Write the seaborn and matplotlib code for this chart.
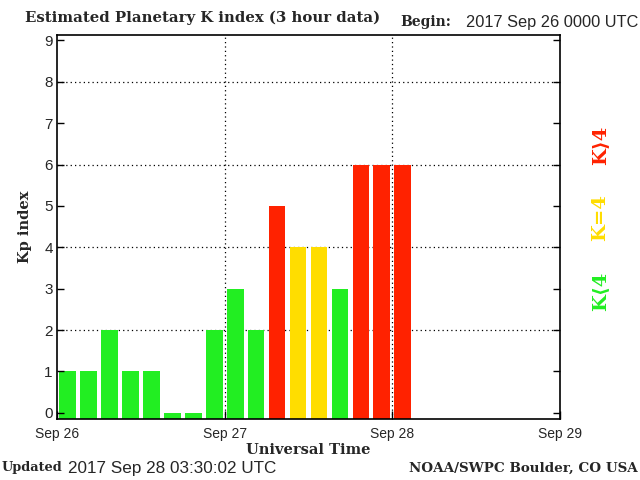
import matplotlib
matplotlib.use("Agg")
import matplotlib.pyplot as plt
import seaborn as sns
import pandas as pd
import numpy as np

# ---- data ----
kp_values = [1, 1, 2, 1, 1, 0, 0, 2, 3, 2, 5, 4, 4, 3, 6, 6, 6]
hours = [3 * i + 1.5 for i in range(len(kp_values))]   # centre of each 3-hour interval (hours since Sep 26 00 UTC)
day_labels = ["Sep 26", "Sep 27", "Sep 28", "Sep 29"]
day_hours = [0, 24, 48, 72]
y_ticks = list(range(10))

GREEN = "#22ee22"
YELLOW = "#ffdd00"
RED = "#ff2200"

def kcolor(v):
    return GREEN if v < 4 else (YELLOW if v == 4 else RED)

YMIN, YMAX = -0.15, 9.13
STUB = 0.07
df = pd.DataFrame({
    "hour": hours,
    "kp": kp_values,
})
df["height"] = [max(v - YMIN, STUB) for v in df["kp"]]
df["color"] = [kcolor(v) for v in df["kp"]]

sns.set_style("white")
plt.rcParams["font.family"] = ["DejaVu Sans"]

fig = plt.figure(figsize=(6.4, 4.8), dpi=100)
ax = fig.add_axes([57 / 640, 1 - 419 / 480, (560 - 57) / 640, (419 - 35) / 480])

sns.barplot(data=df, x="hour", y="height", hue="hour", palette=list(df["color"]),
            native_scale=True, width=0.8, legend=False, ax=ax,
            bottom=YMIN, linewidth=0, edgecolor="none", saturation=1)

ax.set_xlim(0, 72)
ax.set_ylim(YMIN, YMAX)

# grid
for yv in [2, 4, 6, 8]:
    ax.axhline(yv, color="black", lw=0.9, ls=(0, (1, 2.5)), zorder=0.5)
for xv in [24, 48]:
    ax.axvline(xv, color="black", lw=0.9, ls=(0, (1, 2.5)), zorder=3)

ax.set_yticks(y_ticks)
ax.set_yticklabels([str(t) for t in y_ticks], fontsize=11, family="Liberation Sans")
ax.set_xticks(day_hours)
ax.set_xticklabels(day_labels, fontsize=10, family="Liberation Sans")
ax.set_xticks(np.arange(3, 72, 3), minor=True)
ax.tick_params(axis="y", which="major", direction="in", length=5, width=1,
               left=True, right=True, labelleft=True, pad=3, color="black")
ax.tick_params(axis="x", which="major", direction="in", length=6, width=1,
               bottom=True, top=False, pad=6, color="black")
ax.tick_params(axis="x", which="minor", direction="in", length=5, width=1,
               bottom=True, top=False, color="white")
for sp in ax.spines.values():
    sp.set_color("black")
    sp.set_linewidth(1.2)
    sp.set_zorder(4)
ax.set_axisbelow("line")

ax.set_xlabel("Universal Time", fontsize=10.5, fontweight="bold", family="DejaVu Serif", labelpad=1)
ax.set_ylabel("Kp index", fontsize=10.5, fontweight="bold", family="DejaVu Serif", labelpad=9)

# header / footer texts
fig.text(25 / 640, 1 - 18 / 480, "Estimated Planetary K index (3 hour data)", fontsize=10.7,
         fontweight="bold", family="DejaVu Serif", va="center", ha="left")
fig.text(400 / 640, 1 - 22 / 480, "Begin:", fontsize=10, fontweight="bold",
         family="DejaVu Serif", va="center", ha="left")
fig.text(638 / 640, 1 - 22 / 480, "2017 Sep 26 0000 UTC", fontsize=11.8,
         family="Liberation Sans", va="center", ha="right")
fig.text(2 / 640, 1 - 468 / 480, "Updated", fontsize=9.3, fontweight="bold",
         family="DejaVu Serif", va="center", ha="left")
fig.text(68 / 640, 1 - 468 / 480, "2017 Sep 28 03:30:02 UTC", fontsize=12.3,
         family="Liberation Sans", va="center", ha="left")
fig.text(638 / 640, 1 - 468 / 480, "NOAA/SWPC Boulder, CO USA", fontsize=9.7,
         fontweight="bold", family="DejaVu Serif", va="center", ha="right")

# colour key on the right
key_fam = ["DejaVu Serif", "DejaVu Sans"]
fig.text(600 / 640, 1 - 291 / 480, "K\u27e84", color=GREEN, rotation=90, fontsize=14,
         fontweight="bold", family=key_fam, va="center", ha="center")
fig.text(600 / 640, 1 - 218 / 480, "K=4", color=YELLOW, rotation=90, fontsize=14,
         fontweight="bold", family=key_fam, va="center", ha="center")
fig.text(600 / 640, 1 - 145 / 480, "K\u27e94", color=RED, rotation=90, fontsize=14,
         fontweight="bold", family=key_fam, va="center", ha="center")

fig.savefig("out.png", dpi=100)
